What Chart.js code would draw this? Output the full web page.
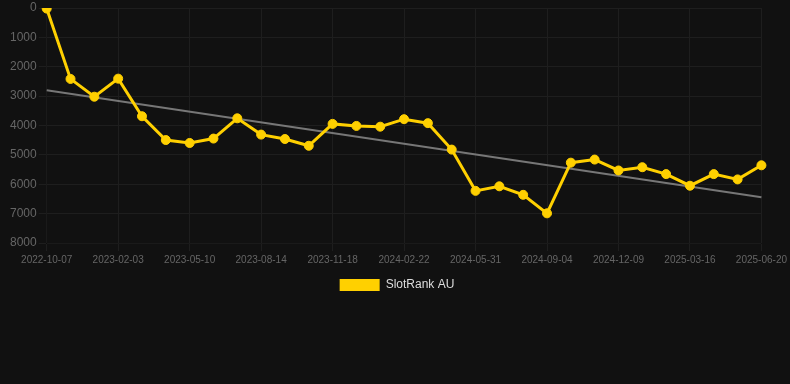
<!DOCTYPE html>
<html lang="en">
    <head>
        <meta charset="utf-8" />
        <title>SlotRank AU</title>
        <script src="https://cdnjs.cloudflare.com/ajax/libs/Chart.js/4.4.0/chart.umd.js"></script>
        <style>
            html, body {
                margin: 0;
                padding: 0;
                background: #111111;
                width: 790px;
                height: 384px;
                overflow: hidden;
            }
            #wrap {
                position: relative;
                width: 790px;
                height: 301px;
            }
        </style>
    </head>
    <body>
        <div id="wrap">
            <canvas id="canvas"></canvas>
        </div>
        <script>
            const dates = [
                '2022-10-07', '2022-11-15', '2022-12-26', '2023-02-03', '2023-03-07', '2023-04-08',
                '2023-05-10', '2023-06-11', '2023-07-13', '2023-08-14', '2023-09-15', '2023-10-17',
                '2023-11-18', '2023-12-20', '2024-01-21', '2024-02-22', '2024-03-26', '2024-04-28',
                '2024-05-31', '2024-07-02', '2024-08-03', '2024-09-04', '2024-10-06', '2024-11-07',
                '2024-12-09', '2025-01-10', '2025-02-12', '2025-03-16', '2025-04-17', '2025-05-19',
                '2025-06-20'
            ];
            const ranks = [
                20, 2415, 3020, 2405, 3685, 4495, 4595, 4445, 3755, 4310, 4460, 4690,
                3945, 4015, 4040, 3785, 3920, 4820, 6225, 6070, 6360, 6990, 5265, 5160,
                5530, 5420, 5655, 6050, 5655, 5835, 5355
            ];
            // trend line ends
            const trendStart = 2800;
            const trendEnd = 6440;

            const trend = dates.map(() => null);
            trend[0] = trendStart;
            trend[trend.length - 1] = trendEnd;

            Chart.defaults.font.family = "'Liberation Sans', Arial, sans-serif";

            new Chart("canvas", {
                type: "line",
                data: {
                    labels: dates,
                    datasets: [{
                        label: "SlotRank AU",
                        data: ranks,
                        borderColor: "#ffd000",
                        backgroundColor: "#ffd000",
                        borderWidth: 3,
                        pointRadius: 4.5,
                        pointBorderWidth: 1,
                        pointHoverRadius: 6,
                        tension: 0,
                        order: 1
                    }, {
                        label: "trend",
                        data: trend,
                        spanGaps: true,
                        borderColor: "#777777",
                        backgroundColor: "#777777",
                        borderWidth: 2,
                        pointRadius: 0,
                        order: 2
                    }]
                },
                options: {
                    responsive: true,
                    maintainAspectRatio: false,
                    animation: false,
                    layout: {
                        padding: { left: 8, right: 4 }
                    },
                    scales: {
                        x: {
                            grid: { color: "#1e1e1e" },
                            ticks: {
                                color: "#666666",
                                font: { size: 10 },
                                autoSkip: true,
                                maxTicksLimit: 11,
                                maxRotation: 0
                            }
                        },
                        y: {
                            reverse: true,
                            min: 0,
                            max: 8000,
                            grid: { color: "#1e1e1e" },
                            ticks: {
                                color: "#666666",
                                font: { size: 12, lineHeight: 1 },
                                stepSize: 1000,
                                padding: 2,
                                callback: v => String(v)
                            }
                        }
                    },
                    plugins: {
                        legend: {
                            position: "bottom",
                            labels: {
                                color: "#dddddd",
                                font: { size: 12 },
                                boxWidth: 40,
                                boxHeight: 12,
                                filter: item => item.datasetIndex === 0,
                                generateLabels: chart => Chart.defaults.plugins.legend.labels
                                    .generateLabels(chart)
                                    .map(item => Object.assign(item, { lineWidth: 0 }))
                            }
                        },
                        tooltip: { enabled: false }
                    }
                }
            });
        </script>
    </body>
</html>
